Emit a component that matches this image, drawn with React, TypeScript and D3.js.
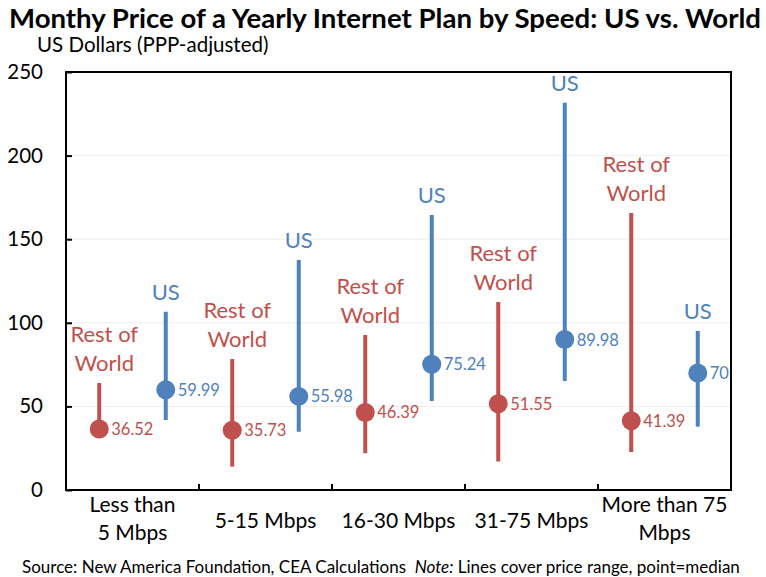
import { FC, useEffect, useRef } from 'react';
import * as d3 from 'd3';

const categories: string[][] = [
  ['Less than', '5 Mbps'],
  ['5-15 Mbps'],
  ['16-30 Mbps'],
  ['31-75 Mbps'],
  ['More than 75', 'Mbps'],
];

// Rest of World: range and median
const rowMin = [35, 14, 22, 17, 22.7];
const rowMax = [64, 78.3, 92.7, 112.4, 165.6];
const rowMedian = [36.52, 35.73, 46.39, 51.55, 41.39];

// US: range and median
const usMin = [41.9, 34.9, 53.2, 65.2, 37.9];
const usMax = [106.6, 137.6, 164.5, 231.6, 95.1];
const usMedian = [59.99, 55.98, 75.24, 89.98, 70];

const yTicks = [0, 50, 100, 150, 200, 250];

const RED = '#C0504D';
const BLUE = '#4F81BD';
const FONT = 'Lato, "Open Sans", sans-serif';

const App: FC = () => {
  const chartRef = useRef<HTMLDivElement>(null);

  useEffect(() => {
    document.body.style.margin = '0';
    const width = 766;
    const height = 577;
    const margin = { top: 72, right: 35, bottom: 87, left: 66 };

    d3.select(chartRef.current).selectAll('*').remove();

    const svg = d3
      .select(chartRef.current)
      .append('svg')
      .attr('width', width)
      .attr('height', height)
      .style('display', 'block')
      .style('font-family', FONT);

    const x = d3
      .scaleBand<number>()
      .domain(categories.map((_, i) => i))
      .range([margin.left, width - margin.right])
      .padding(0);

    const y = d3
      .scaleLinear()
      .domain([0, 250])
      .range([height - margin.bottom, margin.top]);

    // title
    svg
      .append('text')
      .attr('x', 9)
      .attr('y', 28)
      .attr('font-size', 27.5)
      .attr('font-weight', 'bold')
      .attr('textLength', 752)
      .attr('lengthAdjust', 'spacingAndGlyphs')
      .text('Monthy Price of a Yearly Internet Plan by Speed: US vs. World');

    svg
      .append('text')
      .attr('x', 37)
      .attr('y', 52)
      .attr('font-size', 20.5)
      .text('US Dollars (PPP-adjusted)');

    // gridlines
    svg
      .append('g')
      .selectAll('line')
      .data(yTicks.filter((t) => t > 0 && t < 250))
      .enter()
      .append('line')
      .attr('x1', margin.left)
      .attr('x2', width - margin.right)
      .attr('y1', (d) => y(d))
      .attr('y2', (d) => y(d))
      .attr('stroke', '#eeeeee')
      .attr('stroke-width', 1);

    // frame
    svg
      .append('rect')
      .attr('x', margin.left)
      .attr('y', margin.top)
      .attr('width', width - margin.left - margin.right)
      .attr('height', height - margin.top - margin.bottom)
      .attr('fill', 'none')
      .attr('stroke', '#000')
      .attr('stroke-width', 2);

    // y axis
    const yAxis = svg
      .append('g')
      .attr('transform', `translate(${margin.left},0)`)
      .call(d3.axisLeft(y).tickValues(yTicks).tickSizeInner(-6).tickSizeOuter(0).tickPadding(23));
    yAxis.select('.domain').remove();
    yAxis.selectAll('line').attr('stroke', '#000').attr('stroke-width', 2);
    yAxis
      .selectAll('text')
      .attr('font-size', 20.5)
      .attr('font-family', FONT)
      .attr('fill', '#000');

    // x axis ticks at category boundaries
    const bounds = categories.slice(1).map((_, i) => x(i + 1)!);
    svg
      .append('g')
      .selectAll('line')
      .data(bounds)
      .enter()
      .append('line')
      .attr('x1', (d) => d)
      .attr('x2', (d) => d)
      .attr('y1', y(0))
      .attr('y2', y(0) - 6)
      .attr('stroke', '#000')
      .attr('stroke-width', 2);

    // x labels
    const xl = svg
      .append('g')
      .selectAll('text')
      .data(categories)
      .enter()
      .append('text')
      .attr('text-anchor', 'middle')
      .attr('font-size', 21)
      .attr('x', (_, i) => x(i)! + x.bandwidth() / 2)
      .attr('y', (d) => (d.length > 1 ? 512 : 528));
    xl.each(function (d) {
      const t = d3.select(this);
      d.forEach((line, j) => {
        t.append('tspan')
          .attr('x', t.attr('x'))
          .attr('dy', j === 0 ? 0 : 28)
          .text(line);
      });
    });

    const series = [
      { name: ['Rest of', 'World'], color: RED, min: rowMin, max: rowMax, med: rowMedian, pos: 0.25, dx: 5 },
      { name: ['US'], color: BLUE, min: usMin, max: usMax, med: usMedian, pos: 0.75, dx: 0 },
    ];

    series.forEach((s) => {
      const cx = (i: number) => x(i)! + x.bandwidth() * s.pos;
      const g = svg.append('g');
      const idx = s.med.map((_, i) => i);

      g.selectAll('line')
        .data(idx)
        .enter()
        .append('line')
        .attr('x1', (i) => cx(i))
        .attr('x2', (i) => cx(i))
        .attr('y1', (i) => y(s.min[i]))
        .attr('y2', (i) => y(s.max[i]))
        .attr('stroke', s.color)
        .attr('stroke-width', 4);

      g.selectAll('circle')
        .data(idx)
        .enter()
        .append('circle')
        .attr('cx', (i) => cx(i))
        .attr('cy', (i) => y(s.med[i]))
        .attr('r', 9.5)
        .attr('fill', s.color);

      g.selectAll('text.val')
        .data(idx)
        .enter()
        .append('text')
        .attr('class', 'val')
        .attr('x', (i) => cx(i) + 12)
        .attr('y', (i) => y(s.med[i]) + 6)
        .attr('font-size', 16.5)
        .attr('fill', s.color)
        .text((i) => String(s.med[i]));

      const nl = g
        .selectAll('text.name')
        .data(idx)
        .enter()
        .append('text')
        .attr('class', 'name')
        .attr('text-anchor', 'middle')
        .attr('font-size', 22)
        .attr('fill', s.color)
        .attr('x', (i) => cx(i) + s.dx)
        .attr('y', (i) => y(s.max[i]) - 12 - (s.name.length - 1) * 29);
      nl.each(function () {
        const t = d3.select(this);
        s.name.forEach((line, j) => {
          t.append('tspan')
            .attr('x', t.attr('x'))
            .attr('dy', j === 0 ? 0 : 29)
            .text(line);
        });
      });
    });

    // footer
    const foot = svg
      .append('text')
      .attr('x', 22)
      .attr('y', 573)
      .attr('font-size', 17)
      .attr('xml:space', 'preserve')
      .style('white-space', 'pre');
    foot.append('tspan').text('Source: New America Foundation, CEA Calculations  ');
    foot.append('tspan').attr('font-style', 'italic').text('Note:');
    foot.append('tspan').text(' Lines cover price range, point=median');
  }, []);

  return <div ref={chartRef}></div>;
};

export default App;
